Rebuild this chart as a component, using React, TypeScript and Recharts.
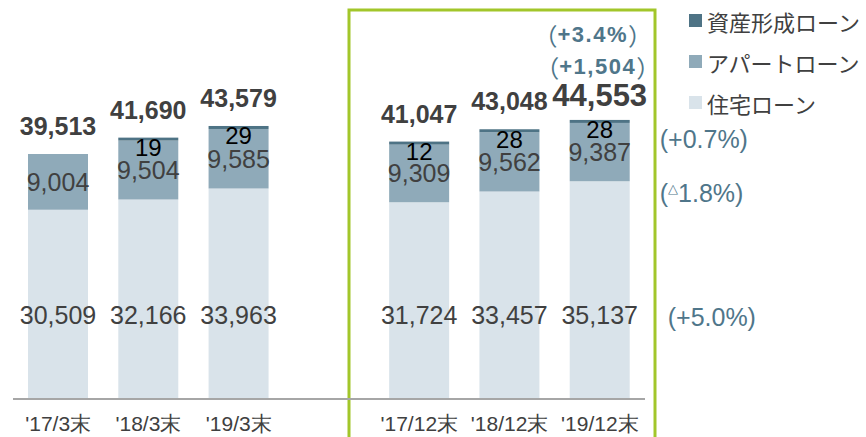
import React from 'react';
import { BarChart, Bar, XAxis, YAxis, LabelList, Legend, Customized } from 'recharts';

const categories = ["'17/3末", "'18/3末", "'19/3末", '', "'17/12末", "'18/12末", "'19/12末"];
const jutaku = [30509, 32166, 33963, null, 31724, 33457, 35137];
const apart = [9004, 9504, 9585, null, 9309, 9562, 9387];
const shisan = [null, 19, 29, null, 12, 28, 28];
const totals = [39513, 41690, 43579, null, 41047, 43048, 44553];

const totalGrowth = '+3.4%';
const totalDiff = '+1,504';
const shisanGrowth = '(+0.7%)';
const apartGrowth = '1.8%)';
const jutakuGrowth = '(+5.0%)';

const seriesNames = { shisan: '資産形成ローン', apart: 'アパートローン', jutaku: '住宅ローン' };

const C_SHISAN = '#4e7385';
const C_APART = '#8faab9';
const C_JUTAKU = '#d9e3ea';
const C_NOTE = '#4f768a';
const C_TEXT = '#404040';
const GREEN = '#a2c62a';
const NUM_FONT = "'Liberation Sans', Arial, sans-serif";
const JP_FONT = "'Noto Sans CJK JP', sans-serif";

// the empty slot between the two groups is kept as a zero-height row
const data = categories.map((cat, i) => ({
  cat,
  jutaku: jutaku[i] ?? 0,
  apart: apart[i] ?? 0,
  shisan: shisan[i] ?? 0,
}));

const fmt = (v: number) => v.toLocaleString('en-US');
const LAST = categories.length - 1;

function geom(p: any) {
  const vb = p.viewBox && p.viewBox.width != null ? p.viewBox : p;
  return { x: Number(vb.x), y: Number(vb.y), w: Number(vb.width), h: Number(vb.height) };
}

// label index is not reliable when zero rows are skipped, so find the row by its value
function rowOf(p: any, arr: (number | null)[]) {
  const raw = Array.isArray(p.value) ? p.value[1] - p.value[0] : Number(p.value);
  if (!raw) return -1;
  return arr.indexOf(raw);
}

function Note({ x, y, text }: { x: number; y: number; text: string }) {
  return (
    <text x={x} y={y} textAnchor="middle" dominantBaseline="central" fill={C_NOTE}>
      <tspan fontFamily={JP_FONT} fontSize={24} fontWeight="normal">（</tspan>
      <tspan fontFamily={NUM_FONT} fontSize={22} fontWeight="bold" letterSpacing={1.5}>{text}</tspan>
      <tspan fontFamily={JP_FONT} fontSize={24} fontWeight="normal">）</tspan>
    </text>
  );
}

function JutakuLabel(p: any) {
  const i = rowOf(p, jutaku);
  if (i < 0) return null;
  const { x, y, w, h } = geom(p);
  const bottom = y + h;
  return (
    <g>
      <text x={x + w / 2} y={bottom - 84} textAnchor="middle" dominantBaseline="central"
        fontSize={25} fontFamily={NUM_FONT} fill={C_TEXT}>{fmt(jutaku[i] as number)}</text>
      {i === LAST && (
        <text x={x + w + 38} y={bottom - 82} dominantBaseline="central"
          fontSize={25} fontFamily={NUM_FONT} fill={C_NOTE}>{jutakuGrowth}</text>
      )}
    </g>
  );
}

function ApartLabel(p: any) {
  const i = rowOf(p, apart);
  if (i < 0) return null;
  const { x, y, w, h } = geom(p);
  const cx = x + w / 2;
  const big = i === LAST;
  const top = y - (shisan[i] ? 3 : 0);
  return (
    <g>
      <text x={cx} y={y + h / 2} textAnchor="middle" dominantBaseline="central"
        fontSize={25} fontFamily={NUM_FONT} fill={C_TEXT}>{fmt(apart[i] as number)}</text>
      <text x={cx} y={top - (big ? 24 : 28)} textAnchor="middle" dominantBaseline="central"
        fontSize={big ? 31 : 25} fontWeight="bold" fontFamily={NUM_FONT} fill={C_TEXT}>
        {fmt(totals[i] as number)}
      </text>
      {big && (
        <g>
          <Note x={cx - 2} y={top - 54} text={totalDiff} />
          <Note x={cx - 7} y={top - 86} text={totalGrowth} />
          <text x={x + w + 30} y={y + h + 12} dominantBaseline="central"
            fontSize={25} fontFamily={NUM_FONT} fill={C_NOTE}>
            (<tspan fontSize={13} dy={-5}>△</tspan><tspan dy={5}>{apartGrowth}</tspan>
          </text>
        </g>
      )}
    </g>
  );
}

function ShisanLabel(p: any) {
  const v = shisan[p.index];
  if (v == null) return null;
  const { x, y, w, h } = geom(p);
  const top = y + h - 3;
  return (
    <g>
      <text x={x + w / 2} y={top + 10} textAnchor="middle" dominantBaseline="central"
        fontSize={24} fontFamily={NUM_FONT} fill="#000">{v}</text>
      {p.index === LAST && (
        <text x={x + w + 30} y={top + 19} dominantBaseline="central"
          fontSize={25} fontFamily={NUM_FONT} fill={C_NOTE}>{shisanGrowth}</text>
      )}
    </g>
  );
}

function ShisanShape(p: any) {
  if (shisan[p.index] == null) return null;
  const h = Math.max(Number(p.height) || 0, 3);
  const bottom = Number(p.y) + (Number(p.height) || 0);
  return <rect x={p.x} y={bottom - h} width={p.width} height={h} fill={C_SHISAN} />;
}

function Tick({ x, y, payload }: any) {
  return (
    <text x={x} y={y + 24} textAnchor="middle" dominantBaseline="central"
      fontSize={21} fontFamily="'Liberation Sans Narrow', 'Liberation Sans', sans-serif" fill={C_TEXT}>
      {payload.value}
    </text>
  );
}

function LegendBox() {
  const items = [
    { name: seriesNames.shisan, color: C_SHISAN },
    { name: seriesNames.apart, color: C_APART },
    { name: seriesNames.jutaku, color: C_JUTAKU },
  ];
  return (
    <div style={{ fontFamily: JP_FONT, fontSize: 22, color: C_TEXT }}>
      {items.map((it) => (
        <div key={it.name} style={{ height: 41, display: 'flex', alignItems: 'center', whiteSpace: 'nowrap' }}>
          <span style={{ width: 13, height: 13, background: it.color, display: 'inline-block', marginRight: 5 }} />
          {it.name}
        </div>
      ))}
    </div>
  );
}

function Frame() {
  return <rect x={349} y={10} width={306} height={440} fill="none" stroke={GREEN} strokeWidth={3} />;
}

export default function App() {
  return (
    <div style={{ position: 'absolute', left: 0, top: 0, width: 866, height: 437, background: '#fff' }}>
      <BarChart width={866} height={437} data={data} barSize={60}
        margin={{ top: 0, right: 221, bottom: 0, left: 13 }}>
        <XAxis dataKey="cat" interval={0} height={38} tickLine={false} tickSize={0} tickMargin={0}
          axisLine={{ stroke: '#a6a6a6', strokeWidth: 2 }} tick={<Tick />} />
        <YAxis hide domain={[0, 64350]} />
        <Legend layout="horizontal" verticalAlign="middle" align="center" content={<LegendBox />}
          wrapperStyle={{ top: 0, left: 689, width: 177, height: 125 }} />
        <Bar dataKey="jutaku" stackId="a" fill={C_JUTAKU} isAnimationActive={false} name={seriesNames.jutaku}>
          <LabelList dataKey="jutaku" content={<JutakuLabel />} />
        </Bar>
        <Bar dataKey="apart" stackId="a" fill={C_APART} isAnimationActive={false} name={seriesNames.apart}>
          <LabelList dataKey="apart" content={<ApartLabel />} />
        </Bar>
        <Bar dataKey="shisan" stackId="a" fill={C_SHISAN} isAnimationActive={false} name={seriesNames.shisan}
          shape={<ShisanShape />}>
          <LabelList dataKey="shisan" content={<ShisanLabel />} />
        </Bar>
        <Customized component={<Frame />} />
      </BarChart>
    </div>
  );
}
